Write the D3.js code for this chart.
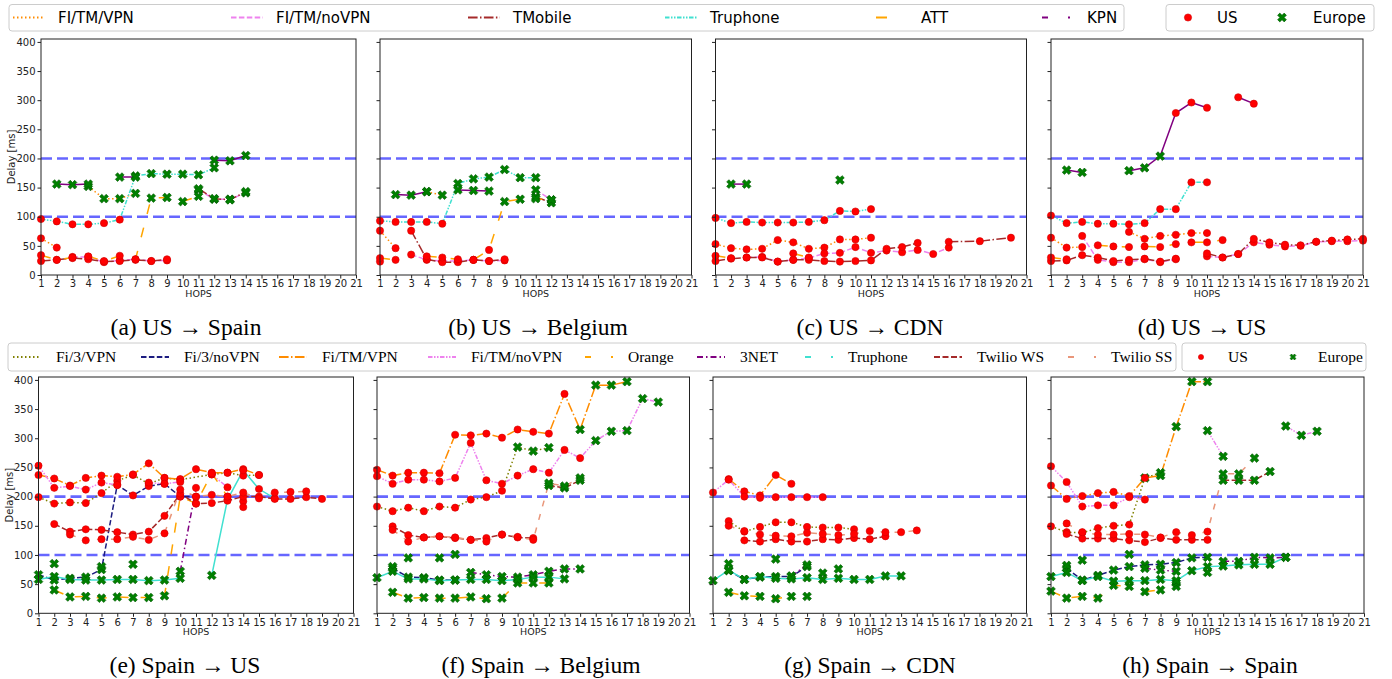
<!DOCTYPE html>
<html><head><meta charset="utf-8">
<script src="https://cdn.jsdelivr.net/npm/d3@7"></script>
<style>body{margin:0;background:#fff}</style>
</head><body><svg id="c" width="1392" height="679"></svg>
<script>
// ---------------- DATA ----------------
const hopTicks = d3.range(1, 22);
const delayTicks = [0, 50, 100, 150, 200, 250, 300, 350, 400];
const thresholds = [100, 200];
const topSeriesNames = ["FI/TM/VPN", "FI/TM/noVPN", "TMobile", "Truphone", "ATT", "KPN"];
const bottomSeriesNames = ["Fi/3/VPN", "Fi/3/noVPN", "Fi/TM/VPN", "Fi/TM/noVPN", "Orange", "3NET", "Truphone", "Twilio WS", "Twilio SS"];
const regionNames = ["US", "Europe"];
const captions = ["(a) US \u2192 Spain", "(b) US \u2192 Belgium", "(c) US \u2192 CDN", "(d) US \u2192 US",
                  "(e) Spain \u2192 US", "(f) Spain \u2192 Belgium", "(g) Spain \u2192 CDN", "(h) Spain \u2192 Spain"];
// points: [hop, delay ms, region U/E]; null breaks the line
const usSpain = [
  ["FI/TM/VPN", [[1,63,"U"],[2,47,"U"],null,[4,152,"E"],[5,131,"E"],[6,131,"E"],[7,140,"E"]]],
  ["FI/TM/noVPN", [[3,31,"U"],[4,31,"U"],[5,22,"U"],[6,25,"U"],[7,27,"U"],[8,24,"U"],[9,25,"U"],null,[11,146,"E"],[12,130,"E"],[13,130,"E"],[14,141,"E"]]],
  ["TMobile", [[1,24,"U"],[2,26,"U"],[3,29,"U"],[4,27,"U"],[5,23,"U"],[6,24,"U"],[7,26,"U"],[8,24,"U"],[9,27,"U"],null,[11,148,"E"],[12,131,"E"],[13,129,"E"],[14,143,"E"]]],
  ["Truphone", [[1,96,"U"],[2,92,"U"],[3,87,"U"],[4,87,"U"],[5,89,"U"],[6,95,"U"],[7,170,"E"],[8,174,"E"],[9,173,"E"],[10,173,"E"],[11,172,"E"],[12,184,"E"]]],
  ["ATT", [[1,34,"U"],[2,26,"U"],[3,30,"U"],[4,32,"U"],[5,24,"U"],[6,33,"U"],[7,27,"U"],[8,132,"E"],[9,133,"E"],[10,126,"E"],[11,135,"E"]]],
  ["KPN", [[2,156,"E"],[3,155,"E"],[4,156,"E"],null,[6,168,"E"],[7,168,"E"],null,[12,197,"E"],[13,196,"E"],[14,205,"E"]]]
];
const usBelgium = [
  ["FI/TM/VPN", [[1,76,"U"],[2,46,"U"],null,[4,143,"E"],[5,137,"E"]]],
  ["FI/TM/noVPN", [[3,35,"U"],[4,26,"U"],[5,24,"U"],[6,24,"U"],[7,26,"U"],[8,24,"U"],[9,25,"U"],null,[11,146,"E"],[12,129,"E"]]],
  ["TMobile", [[1,23,"U"],null,[3,76,"U"],[4,27,"U"],[5,22,"U"],[6,22,"U"],[7,26,"U"],[8,24,"U"],[9,27,"U"],null,[11,134,"E"],[12,124,"E"]]],
  ["Truphone", [[1,93,"U"],[2,91,"U"],[3,91,"U"],[4,91,"U"],[5,88,"U"],[6,157,"E"],[7,165,"E"],[8,168,"E"],[9,181,"E"],[10,167,"E"],[11,167,"E"]]],
  ["ATT", [[1,29,"U"],[2,26,"U"],null,[4,32,"U"],[5,30,"U"],[6,27,"U"],[7,26,"U"],[8,43,"U"],[9,126,"E"],[10,130,"E"],[11,131,"E"],[12,129,"E"]]],
  ["KPN", [[2,138,"E"],[3,137,"E"],[4,143,"E"],null,[6,146,"E"],[7,145,"E"],[8,144,"E"]]]
];
const usCDN = [
  ["FI/TM/VPN", [[1,53,"U"],[2,46,"U"],[3,44,"U"],[4,45,"U"],[5,60,"U"],[6,56,"U"],[7,45,"U"],[8,47,"U"],[9,61,"U"],[10,61,"U"],[11,64,"U"]]],
  ["FI/TM/noVPN", [[3,30,"U"],[4,31,"U"],[5,23,"U"],[6,26,"U"],[7,29,"U"],[8,37,"U"],[9,38,"U"],[10,48,"U"],[11,38,"U"],[12,42,"U"],[13,39,"U"],[14,43,"U"],[15,36,"U"],[16,47,"U"]]],
  ["TMobile", [[1,24,"U"],[2,28,"U"],[3,30,"U"],[4,30,"U"],[5,23,"U"],[6,26,"U"],[7,26,"U"],[8,24,"U"],[9,23,"U"],[10,24,"U"],[11,25,"U"],[12,45,"U"],[13,48,"U"],[14,55,"U"],null,[16,57,"U"],[18,58,"U"],[20,64,"U"]]],
  ["Truphone", [[1,98,"U"],[2,89,"U"],[3,91,"U"],[4,90,"U"],[5,90,"U"],[6,90,"U"],[7,91,"U"],[8,94,"U"],[9,110,"U"],[10,109,"U"],[11,113,"U"]]],
  ["ATT", [[1,33,"U"],[2,29,"U"],null,[6,37,"U"],[7,30,"U"]]],
  ["KPN", [[2,156,"E"],[3,156,"E"],null,[9,163,"E"]]]
];
const usUS = [
  ["FI/TM/VPN", [[1,64,"U"],[2,47,"U"],[3,48,"U"],null,[6,74,"U"],[7,62,"U"],[8,67,"U"],[9,69,"U"],[10,72,"U"],[11,72,"U"]]],
  ["FI/TM/noVPN", [[3,67,"U"],[4,26,"U"],[5,22,"U"],[6,22,"U"],[7,27,"U"],[8,22,"U"],[9,27,"U"],null,[11,32,"U"],[12,30,"U"],[13,36,"U"],[14,56,"U"],[15,52,"U"],[16,49,"U"],[17,50,"U"],[18,57,"U"],[19,58,"U"],[20,58,"U"],[21,59,"U"]]],
  ["TMobile", [[1,24,"U"],[2,25,"U"],[3,34,"U"],[4,30,"U"],[5,24,"U"],[6,26,"U"],[7,28,"U"],[8,23,"U"],[9,28,"U"],null,[11,37,"U"],[12,30,"U"],[13,36,"U"],[14,62,"U"],[15,56,"U"],[16,52,"U"],[17,51,"U"],[18,57,"U"],[19,59,"U"],[20,61,"U"],[21,62,"U"]]],
  ["Truphone", [[1,102,"U"],[2,89,"U"],[3,91,"U"],[4,88,"U"],[5,88,"U"],[6,87,"U"],[7,89,"U"],[8,113,"U"],[9,113,"U"],[10,159,"U"],[11,159,"U"]]],
  ["ATT", [[1,30,"U"],[2,27,"U"],null,[4,51,"U"],[5,49,"U"],[6,48,"U"],[7,49,"U"],[8,48,"U"],[9,53,"U"],[10,56,"U"],[11,56,"U"],[12,60,"U"]]],
  ["KPN", [[2,180,"E"],[3,176,"E"],null,[6,179,"E"],[7,184,"E"],[8,204,"E"],[9,278,"U"],[10,296,"U"],[11,287,"U"],null,[13,305,"U"],[14,294,"U"]]]
];
const spainUS = [
  ["Fi/3/VPN", [[1,199,"U"],[2,188,"U"],[3,190,"U"],[4,189,"U"],[5,206,"U"],[6,227,"U"],[7,237,"U"],[8,222,"U"],[9,232,"U"],[10,229,"U"],[12,238,"U"],[13,241,"U"],[14,236,"U"],[15,237,"U"]]],
  ["Fi/3/noVPN", [[1,66,"E"],[2,57,"E"],[3,60,"E"],[4,62,"E"],[5,75,"E"],[6,220,"U"],[7,202,"U"],[8,218,"U"],[9,222,"U"],[10,200,"U"],[11,200,"U"]]],
  ["Fi/TM/VPN", [[1,237,"U"],[2,231,"U"],[3,219,"U"],[4,232,"U"],[5,236,"U"],[6,234,"U"],[7,238,"U"],[8,257,"U"],[9,232,"U"],[10,230,"U"],[11,247,"U"],[12,241,"U"],[13,241,"U"],[14,247,"U"],[15,237,"U"]]],
  ["Fi/TM/noVPN", [[1,253,"U"],[2,215,"U"],[3,218,"U"],[4,212,"U"],[5,224,"U"],[6,220,"U"],null,[8,224,"U"],[9,222,"U"],[10,225,"U"],null,[12,238,"U"],[13,216,"U"]]],
  ["Orange", [[2,40,"E"],[3,28,"E"],[4,29,"E"],[5,26,"E"],[6,28,"E"],[7,27,"E"],[8,27,"E"],[9,30,"E"],[10,200,"U"],[11,188,"U"],[12,240,"U"],[13,200,"U"],[14,192,"U"]]],
  ["3NET", [[2,85,"E"],null,[5,80,"E"],null,[7,84,"E"],null,[10,72,"E"],[11,215,"U"]]],
  ["Truphone", [[1,58,"E"],[2,63,"E"],[3,58,"E"],[4,57,"E"],[5,57,"E"],[6,58,"E"],[7,58,"E"],[8,56,"E"],[9,57,"E"],[10,60,"E"],null,[12,65,"E"],[13,195,"U"],[14,245,"U"],[15,213,"U"],[16,197,"U"]]],
  ["Twilio WS", [[2,153,"U"],[3,140,"U"],[4,144,"U"],[5,143,"U"],[6,139,"U"],[7,135,"U"],[8,140,"U"],[9,167,"U"],[10,205,"U"],[11,188,"U"],[12,189,"U"],[13,193,"U"],[14,200,"U"],[15,200,"U"],[16,196,"U"],[17,196,"U"],[18,199,"U"],[19,196,"U"]]],
  ["Twilio SS", [[3,135,"U"],[4,125,"U"],[5,127,"U"],[6,127,"U"],[7,131,"U"],[8,126,"U"],[9,137,"U"],[10,212,"U"],[11,200,"U"],[12,203,"U"],[13,200,"U"],[14,207,"U"],[15,197,"U"],[16,207,"U"],[17,208,"U"],[18,209,"U"],null,[14,182,"U"]]]
];
const spainBelgium = [
  ["Fi/3/VPN", [[1,183,"U"],[2,175,"U"],[3,181,"U"],[4,175,"U"],[5,183,"U"],[6,181,"U"],[7,195,"U"],[8,199,"U"],[9,210,"U"],[10,285,"E"],[11,278,"E"],[12,284,"E"]]],
  ["Fi/3/noVPN", [[2,77,"E"],[3,62,"E"],[4,61,"E"],[5,57,"E"],[6,57,"E"],null,[3,95,"E"],null,[5,95,"E"],null,[6,101,"E"]]],
  ["Fi/TM/VPN", [[1,246,"U"],[2,236,"U"],[3,241,"U"],[4,241,"U"],[5,240,"U"],[6,306,"U"],[7,305,"U"],[8,308,"U"],[9,301,"U"],[10,315,"U"],[11,311,"U"],[12,308,"U"],[13,376,"U"],[14,315,"E"],[15,391,"E"],[16,391,"E"],[17,397,"E"]]],
  ["Fi/TM/noVPN", [[1,235,"U"],[2,222,"U"],[3,229,"U"],[4,229,"U"],[5,226,"U"],[6,232,"U"],[7,292,"U"],[8,228,"U"],[9,222,"U"],[10,236,"U"],[11,247,"U"],[12,241,"U"],[13,280,"U"],[14,266,"U"],[15,296,"E"],[16,312,"E"],[17,313,"E"],[18,368,"E"],[19,362,"E"]]],
  ["Orange", [[2,36,"E"],[3,26,"E"],[4,27,"E"],[5,26,"E"],[6,26,"E"],[7,28,"E"],[8,25,"E"],[9,26,"E"],[10,52,"E"],[11,52,"E"],[12,52,"E"]]],
  ["3NET", [[2,80,"E"],null,[7,70,"E"],[8,66,"E"],[9,63,"E"],[10,62,"E"],[11,66,"E"],[12,72,"E"],[13,76,"E"],[14,76,"E"]]],
  ["Truphone", [[1,61,"E"],[2,72,"E"],[3,59,"E"],[4,59,"E"],[5,56,"E"],[6,57,"E"],[7,58,"E"],[8,58,"E"],[9,56,"E"],[10,58,"E"],[11,62,"E"],[12,62,"E"],[13,59,"E"]]],
  ["Twilio WS", [[2,149,"U"],[3,134,"U"],[4,130,"U"],[5,132,"U"],[6,129,"U"],[7,126,"U"],[8,129,"U"],[9,135,"U"],[10,130,"U"],[11,129,"U"],null,[12,219,"E"],[13,215,"E"],[14,228,"E"]]],
  ["Twilio SS", [[2,143,"U"],[3,123,"U"],[4,130,"U"],[5,132,"U"],[6,130,"U"],[7,126,"U"],[8,123,"U"],[9,135,"U"],[10,131,"U"],[11,126,"U"],[12,223,"E"],[13,218,"E"],[14,232,"E"]]]
];
const spainCDN = [
  ["Fi/3/VPN", [[2,158,"U"],[3,140,"U"],[4,148,"U"],[5,156,"U"],[6,156,"U"],[7,148,"U"],[8,147,"U"],[9,147,"U"],[10,144,"U"]]],
  ["Fi/3/noVPN", [[2,73,"E"],[3,58,"E"],[4,62,"E"],[5,63,"E"],[6,63,"E"],[7,80,"E"]]],
  ["Fi/TM/VPN", [[2,230,"U"],[3,209,"U"],[4,202,"U"],[5,237,"U"],[6,222,"U"]]],
  ["Fi/TM/noVPN", [[1,207,"U"],[2,229,"U"],[3,200,"U"],[4,198,"U"],[5,199,"U"],[6,199,"U"],[7,199,"U"],[8,199,"U"]]],
  ["Orange", [[2,36,"E"],[3,30,"E"],[4,29,"E"],[5,25,"E"],[6,29,"E"],null,[7,29,"E"]]],
  ["3NET", [[2,85,"E"],null,[5,93,"E"],null,[6,64,"E"],[7,83,"E"],null,[8,69,"E"],null,[9,76,"E"]]],
  ["Truphone", [[1,56,"E"],[2,74,"E"],[3,58,"E"],[4,63,"E"],[5,60,"E"],[6,59,"E"],[7,61,"E"],[8,58,"E"],[9,60,"E"],[10,58,"E"],[11,58,"E"],[12,64,"E"],[13,64,"E"]]],
  ["Twilio WS", [[3,125,"U"],[4,123,"U"],[5,127,"U"],[6,123,"U"],[7,123,"U"],[8,127,"U"],[9,126,"U"],[10,129,"U"],[11,127,"U"],[12,132,"U"]]],
  ["Twilio SS", [[2,150,"U"],[3,141,"U"],[4,135,"U"],[5,133,"U"],[6,132,"U"],[7,138,"U"],[8,136,"U"],[9,134,"U"],[10,136,"U"],[11,141,"U"],[12,139,"U"],[13,139,"U"],[14,142,"U"]]]
];
const spainSpain = [
  ["Fi/3/VPN", [[1,149,"U"],[2,139,"U"],[3,138,"U"],[4,146,"U"],[5,150,"U"],[6,152,"U"],[7,232,"E"],[8,241,"E"]]],
  ["Fi/3/noVPN", [[2,77,"E"],[3,57,"E"],[4,65,"E"],[5,74,"E"],[6,80,"E"],[7,83,"E"],[8,84,"E"],[9,87,"E"],[10,95,"E"],[11,96,"E"]]],
  ["Fi/TM/VPN", [[1,219,"U"],[2,196,"U"],[3,201,"U"],[4,206,"U"],[5,208,"U"],[6,201,"U"],[7,232,"U"],[8,236,"E"],[9,320,"E"],[10,397,"E"],[11,397,"E"]]],
  ["Fi/TM/noVPN", [[1,252,"U"],[2,225,"U"],[3,183,"U"],[4,185,"U"],[5,185,"U"],[6,199,"U"],[7,195,"U"],null,[11,313,"E"],[12,269,"E"],null,[16,321,"E"],[17,305,"E"],[18,312,"E"]]],
  ["Orange", [[1,38,"E"],[2,26,"E"],[3,29,"E"],[4,26,"E"],[5,48,"E"],[6,46,"E"],null,[7,37,"E"],[8,40,"E"],null,[9,46,"E"],null,[9,52,"E"],null,[11,70,"E"]]],
  ["3NET", [[2,82,"E"],null,[3,91,"E"],null,[6,101,"E"],null,[7,77,"E"],[8,74,"E"],[9,72,"E"],null,[12,89,"E"],[13,89,"E"],[14,96,"E"],[15,95,"E"],[16,96,"E"]]],
  ["Truphone", [[1,63,"E"],[2,70,"E"],[3,56,"E"],[4,63,"E"],[5,55,"E"],[6,56,"E"],[7,56,"E"],[8,58,"E"],[9,56,"E"],[10,73,"E"],[11,80,"E"],[12,81,"E"],[13,83,"E"],[14,84,"E"],[15,84,"E"],[16,96,"E"]]],
  ["Twilio WS", [[2,136,"U"],[3,128,"U"],[4,128,"U"],[5,128,"U"],[6,125,"U"],[7,122,"U"],[8,129,"U"],[9,126,"U"],[10,126,"U"],[11,126,"U"],null,[12,228,"E"],[13,228,"E"],[14,228,"E"],[15,243,"E"]]],
  ["Twilio SS", [[2,154,"U"],[3,139,"U"],[4,135,"U"],[5,135,"U"],[6,136,"U"],[7,135,"U"],[8,130,"U"],[9,139,"U"],[10,134,"U"],[11,140,"U"],[12,239,"E"],[13,239,"E"],[14,266,"E"]]]
];

// ---------------- STYLES ----------------
const topStyle = {
  "FI/TM/VPN":   {c: "#ff8c00", d: "1.5,2.5"},
  "FI/TM/noVPN": {c: "#ee82ee", d: "5.5,2.4"},
  "TMobile":     {c: "#a52a2a", d: "9.6,2.4,1.5,2.4"},
  "Truphone":    {c: "#40e0d0", d: "4.5,1.5,1.5,1.5,1.5,1.5"},
  "ATT":         {c: "#ffa500", d: "10,14", ld: "11,40"},
  "KPN":         {c: "#800080", d: null, ld: "6,20,2,20"}
};
const bottomStyle = {
  "Fi/3/VPN":    {c: "#808000", d: "1.5,2.5"},
  "Fi/3/noVPN":  {c: "#1c1c80", d: "5.5,2.4"},
  "Fi/TM/VPN":   {c: "#ff8c00", d: "9.6,2.4,1.5,2.4"},
  "Fi/TM/noVPN": {c: "#ee82ee", d: "4.5,1.5,1.5,1.5,1.5,1.5"},
  "Orange":      {c: "#ffa500", d: "10,12", ld: "6,20,2,20"},
  "3NET":        {c: "#800080", d: "6,3,1.5,3"},
  "Truphone":    {c: "#40e0d0", d: null, ld: "6,20,2,20"},
  "Twilio WS":   {c: "#a52a2a", d: "6,2.5"},
  "Twilio SS":   {c: "#e9967a", d: "6,8", ld: "6,20,2,20"}
};

const panels = [
  {data: usSpain,     x0: 41,    x1: 356,   row: 0, cap: 186,  yl: true,  st: topStyle},
  {data: usBelgium,   x0: 380,   x1: 691.5, row: 0, cap: 538,  yl: false, st: topStyle},
  {data: usCDN,       x0: 715.5, x1: 1026.5,row: 0, cap: 870,  yl: false, st: topStyle},
  {data: usUS,        x0: 1051,  x1: 1363,  row: 0, cap: 1202, yl: false, st: topStyle},
  {data: spainUS,     x0: 38.5,  x1: 353.5, row: 1, cap: 185,  yl: true,  st: bottomStyle},
  {data: spainBelgium,x0: 377,   x1: 689.5, row: 1, cap: 541,  yl: false, st: bottomStyle},
  {data: spainCDN,    x0: 713,   x1: 1026.5,row: 1, cap: 870,  yl: false, st: bottomStyle},
  {data: spainSpain,  x0: 1051,  x1: 1364,  row: 1, cap: 1210, yl: false, st: bottomStyle}
];
const rows = [{b: 275, t: 39, capY: 335}, {b: 613.3, t: 377, capY: 673}];

const svg = d3.select("#c");
const sans = "DejaVu Sans, sans-serif";
const serif = "Liberation Serif, Times New Roman, serif";

const xSym = d3.symbol().type(d3.symbolCross);

function drawMarker(g, x, y, region, big) {
  if (region === "U") {
    g.append("circle").attr("cx", x).attr("cy", y).attr("r", big ? 3.6 : 2.6)
      .attr("fill", "#ff0000").attr("stroke", "#d40000").attr("stroke-width", 0.6);
  } else {
    g.append("path").attr("d", xSym.size(big ? 48 : 22)())
      .attr("transform", `translate(${x},${y}) rotate(45)`)
      .attr("fill", "#008000").attr("stroke", "#005a00").attr("stroke-width", 0.6);
  }
}

panels.forEach((p, i) => {
  const r = rows[p.row];
  const x = d3.scaleLinear().domain([1, 21]).range([p.x0, p.x1]);
  const y = d3.scaleLinear().domain([0, 405]).range([r.b, r.t]);
  const g = svg.append("g");

  thresholds.forEach(v => {
    g.append("line").attr("x1", p.x0).attr("x2", p.x1).attr("y1", y(v)).attr("y2", y(v))
      .attr("stroke", "#0000ff").attr("stroke-opacity", 0.6).attr("stroke-width", 2.6)
      .attr("stroke-dasharray", "11,5");
  });

  const line = d3.line().defined(d => d !== null).x(d => x(d[0])).y(d => y(d[1]));
  p.data.forEach(([name, pts]) => {
    const s = p.st[name];
    g.append("path").attr("d", line(pts)).attr("fill", "none")
      .attr("stroke", s.c).attr("stroke-width", 1.5)
      .attr("stroke-dasharray", s.d);
  });
  p.data.forEach(([name, pts]) => {
    pts.filter(d => d !== null).forEach(d => drawMarker(g, x(d[0]), y(d[1]), d[2], true));
  });

  g.append("rect").attr("x", p.x0).attr("y", r.t).attr("width", p.x1 - p.x0).attr("height", r.b - r.t)
    .attr("fill", "none").attr("stroke", "#222").attr("stroke-width", 1);

  const ax = g.append("g").attr("transform", `translate(0,${r.b})`)
    .call(d3.axisBottom(x).tickValues(hopTicks).tickFormat(d3.format("d")).tickSize(3.5).tickSizeOuter(0));
  const ay = g.append("g").attr("transform", `translate(${p.x0},0)`)
    .call(d3.axisLeft(y).tickValues(delayTicks).tickSize(3.5).tickSizeOuter(0)
      .tickFormat(p.yl ? d3.format("d") : () => ""));
  [ax, ay].forEach(a => {
    a.select(".domain").remove();
    a.selectAll("line").attr("stroke", "#222");
    a.selectAll("text").attr("font-family", sans).attr("font-size", 10).attr("fill", "#222");
  });
  ax.selectAll("text").attr("dy", null).attr("y", 12.3);
  ay.selectAll("text").attr("x", -5.5);

  g.append("text").attr("x", (p.x0 + p.x1) / 2).attr("y", r.b + 21.5)
    .attr("text-anchor", "middle").attr("font-family", sans).attr("font-size", 9.5).attr("fill", "#222")
    .text("HOPS");
  if (p.yl) {
    g.append("text").attr("transform", `translate(${p.x0 - 26},${(r.t + r.b) / 2}) rotate(-90)`)
      .attr("text-anchor", "middle").attr("font-family", sans).attr("font-size", 10).attr("fill", "#222")
      .text("Delay [ms]");
  }
  svg.append("text").attr("x", p.cap).attr("y", r.capY).attr("text-anchor", "middle")
    .attr("font-family", serif).attr("font-size", 23.5).attr("fill", "#000").text(captions[i]);
});

// ---------------- LEGENDS ----------------
function box(x0, x1, y0, y1) {
  svg.append("rect").attr("x", x0).attr("y", y0).attr("width", x1 - x0).attr("height", y1 - y0)
    .attr("rx", 3).attr("fill", "#fff").attr("stroke", "#cccccc").attr("stroke-width", 1);
}
box(9, 1124, 4.5, 31);
const topTextX = [58, 276, 513, 710, 921, 1087];
topSeriesNames.forEach((n, i) => {
  const s = topStyle[n], tx = topTextX[i], cy = 17.5;
  svg.append("line").attr("x1", tx - 45).attr("x2", tx - 13).attr("y1", cy).attr("y2", cy)
    .attr("stroke", s.c).attr("stroke-width", 2).attr("stroke-dasharray", s.ld || s.d);
  svg.append("text").attr("x", tx).attr("y", cy + 5.5).attr("font-family", sans).attr("font-size", 15)
    .attr("fill", "#000").text(n);
});
box(1166, 1374, 4.5, 31);
drawMarker(svg, 1188, 17.5, "U", true);
svg.append("text").attr("x", 1217).attr("y", 23).attr("font-family", sans).attr("font-size", 15).text(regionNames[0]);
drawMarker(svg, 1282, 17.5, "E", true);
svg.append("text").attr("x", 1313).attr("y", 23).attr("font-family", sans).attr("font-size", 15).text(regionNames[1]);

box(8, 1176, 343, 371);
const botTextX = [56, 184, 322, 471, 628, 740, 848, 977, 1111];
bottomSeriesNames.forEach((n, i) => {
  const s = bottomStyle[n], tx = botTextX[i], cy = 357;
  svg.append("line").attr("x1", tx - 43).attr("x2", tx - 15).attr("y1", cy).attr("y2", cy)
    .attr("stroke", s.c).attr("stroke-width", 2).attr("stroke-dasharray", s.ld || s.d);
  svg.append("text").attr("x", tx).attr("y", cy + 5).attr("font-family", serif).attr("font-size", 15.5)
    .attr("fill", "#000").text(n);
});
box(1182, 1366, 343, 371);
drawMarker(svg, 1201, 357, "U", false);
svg.append("text").attr("x", 1228).attr("y", 362).attr("font-family", serif).attr("font-size", 15.5).text(regionNames[0]);
drawMarker(svg, 1293, 357, "E", false);
svg.append("text").attr("x", 1318).attr("y", 362).attr("font-family", serif).attr("font-size", 15.5).text(regionNames[1]);
</script></body></html>
